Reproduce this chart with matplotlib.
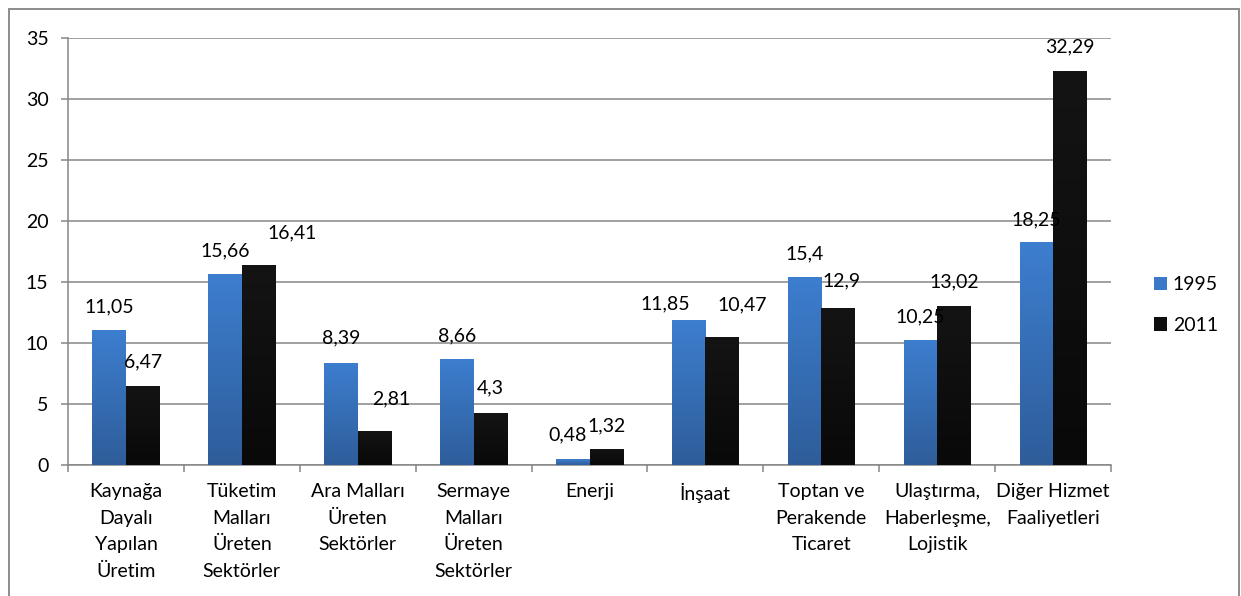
import matplotlib
matplotlib.use("Agg")
import matplotlib.pyplot as plt
import numpy as np
from matplotlib.colors import LinearSegmentedColormap
from matplotlib.patches import Rectangle

plt.rcParams['font.family'] = ['Lato', 'DejaVu Sans']

categories = ["Kaynağa\nDayalı\nYapılan\nÜretim",
              "Tüketim\nMalları\nÜreten\nSektörler",
              "Ara Malları\nÜreten\nSektörler",
              "Sermaye\nMalları\nÜreten\nSektörler",
              "Enerji",
              "İnşaat",
              "Toptan ve\nPerakende\nTicaret",
              "Ulaştırma,\nHaberleşme,\nLojistik",
              "Diğer Hizmet\nFaaliyetleri"]
series_names = ["1995", "2011"]
values_1995 = [11.05, 15.66, 8.39, 8.66, 0.48, 11.85, 15.4, 10.25, 18.25]
values_2011 = [6.47, 16.41, 2.81, 4.3, 1.32, 10.47, 12.9, 13.02, 32.29]
labels_1995 = ["11,05", "15,66", "8,39", "8,66", "0,48", "11,85", "15,4", "10,25", "18,25"]
labels_2011 = ["6,47", "16,41", "2,81", "4,3", "1,32", "10,47", "12,9", "13,02", "32,29"]
yticks = [0, 5, 10, 15, 20, 25, 30, 35]

# label offsets (pixels) relative to bar top center
off_1995 = [(0, 23), (0, 23), (0, 25), (0, 23), (-5, 24), (-23, 17), (0, 23), (0, 23), (0, 22)]
off_2011 = [(0, 24), (34, 32), (17, 32), (0, 25), (0, 23), (20, 32), (4, 27), (0, 24), (0, 24)]

W, H = 1241, 596
fig = plt.figure(figsize=(W / 100, H / 100), dpi=100)
ax = fig.add_axes([68 / W, 1 - 465 / H, (1111 - 68) / W, (465 - 38) / H])

grid_c = "#868686"
fs = 14

x = np.arange(len(categories))
bw = 0.289
cm_blue = LinearSegmentedColormap.from_list("b", ["#2E5D9A", "#3D7ECF"])
cm_black = LinearSegmentedColormap.from_list("k", ["#090909", "#141414"])

bars1 = ax.bar(x - bw / 2, values_1995, bw, color="#3A78C8", zorder=3, label=series_names[0])
bars2 = ax.bar(x + bw / 2, values_2011, bw, color="#0E0E0E", zorder=3, label=series_names[1])

grad = np.linspace(0, 1, 256).reshape(-1, 1)
for bars, cmap in ((bars1, cm_blue), (bars2, cm_black)):
    for b in bars:
        x0, y0 = b.get_x(), b.get_y()
        w, h = b.get_width(), b.get_height()
        im = ax.imshow(grad, cmap=cmap, origin="lower", aspect="auto",
                       extent=(x0, x0 + w, y0, y0 + h), zorder=3.5)
        im.set_clip_path(b)

for bars, labs, offs in ((bars1, labels_1995, off_1995), (bars2, labels_2011, off_2011)):
    for b, lab, (dx, dy) in zip(bars, labs, offs):
        ax.annotate(lab, (b.get_x() + b.get_width() / 2, b.get_height()),
                    xytext=(dx, dy), textcoords="offset pixels",
                    ha="center", va="center", fontsize=fs, color="#000000", zorder=5)

ax.set_xlim(-0.5, len(categories) - 0.5)
ax.set_ylim(0, 35)
ax.set_yticks(yticks)
ax.set_yticklabels([str(t) for t in yticks], fontsize=fs)
ax.yaxis.grid(True, color=grid_c, linewidth=1.1, zorder=0)
ax.set_axisbelow(True)

ax.set_xticks(x)
ax.set_xticklabels(categories, fontsize=fs, linespacing=1.68, va="top")
ax.set_xticks(np.arange(-0.5, len(categories), 1.0), minor=True)
ax.tick_params(axis="x", which="major", length=0, pad=13)
ax.tick_params(axis="x", which="minor", length=5, width=1.1, color=grid_c)
ax.tick_params(axis="y", length=5, width=1.1, color=grid_c, pad=9)

for s in ("top", "right"):
    ax.spines[s].set_visible(False)
for s in ("left", "bottom"):
    ax.spines[s].set_color(grid_c)
    ax.spines[s].set_linewidth(1.1)

leg = fig.legend(handles=[bars1, bars2], labels=series_names, loc="center left",
                 bbox_to_anchor=(1136 / W, 1 - 305 / H), frameon=False, fontsize=fs,
                 handlelength=0.7, handleheight=0.7, handletextpad=0.3, labelspacing=1.2)
for hnd, c in zip(leg.legend_handles, ["#3A78C8", "#0E0E0E"]):
    hnd.set_facecolor(c)

fig.patches.append(Rectangle((9 / W, -0.05), (1239 - 9) / W, 1.05 - 9 / H,
                             transform=fig.transFigure, fill=False,
                             edgecolor="#8C8C8C", linewidth=1.4))

fig.savefig("out.png", dpi=100)
